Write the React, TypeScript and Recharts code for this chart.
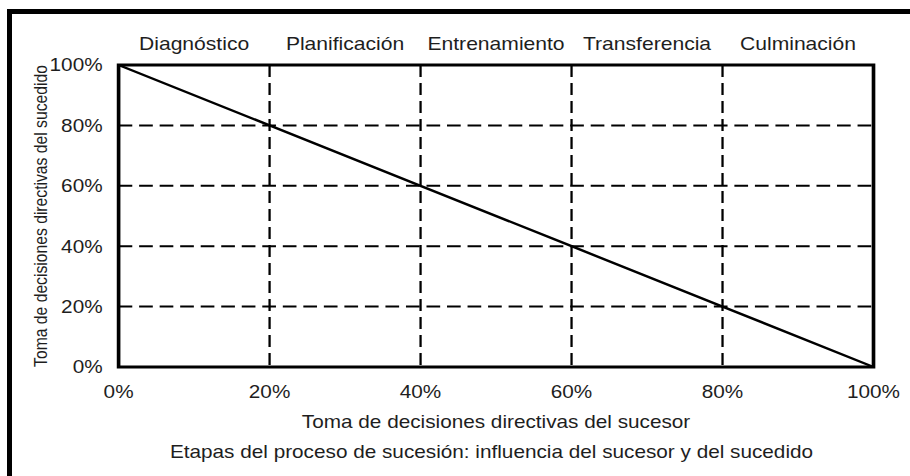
import React from "react";
import { LineChart, Line, XAxis, YAxis, CartesianGrid, ReferenceArea, Label } from "recharts";

// Data
const sucesorShare = [0, 20, 40, 60, 80, 100];
const sucedidoShare = [100, 80, 60, 40, 20, 0];
const percentTicks = [0, 20, 40, 60, 80, 100];
const stageNames = ["Diagnóstico", "Planificación", "Entrenamiento", "Transferencia", "Culminación"];
const stageCenters = [10, 30, 50, 70, 90];
const xTitle = "Toma de decisiones directivas del sucesor";
const xSubtitle = "Etapas del proceso de sucesión: influencia del sucesor y del sucedido";
const yTitle = "Toma de decisiones directivas del sucedido";

const data = sucesorShare.map((x, i) => ({ sucesor: x, sucedido: sucedidoShare[i] }));

const FONT = '"Liberation Sans", Arial, Helvetica, sans-serif';
const TEXT = "#1e1e1e";
const W = 798;
const H = 476;
const SX = 910 / W;

const pct = (v: number) => `${v}%`;
const stageLabel = (v: number) => {
  const i = stageCenters.indexOf(v);
  return i >= 0 ? stageNames[i] : "";
};

const XTitles = (props: any) => {
  const vb = props.viewBox || {};
  const cx = vb.x + vb.width / 2;
  return (
    <g>
      <text x={cx} y={vb.y + 61} textAnchor="middle" fontSize={18.2} fontFamily={FONT} fill={TEXT}>
        {xTitle}
      </text>
      <text x={cx - 4} y={vb.y + 91} textAnchor="middle" fontSize={18.2} fontFamily={FONT} fill={TEXT}>
        {xSubtitle}
      </text>
    </g>
  );
};

const YTitle = (props: any) => {
  const vb = props.viewBox || {};
  const x = vb.x - 3;
  const y = vb.y + vb.height / 2;
  return (
    <text
      x={x}
      y={y}
      transform={`rotate(-90, ${x}, ${y})`}
      textAnchor="middle"
      fontSize={15.7}
      fontFamily={FONT}
      fill={TEXT}
    >
      {yTitle}
    </text>
  );
};

export default function App() {
  return (
    <div style={{ position: "absolute", left: 0, top: 0, width: 910, height: 476, overflow: "hidden", background: "#fff" }}>
      <div
        style={{
          position: "absolute",
          left: 7,
          top: 9,
          width: 903,
          height: 467,
          boxSizing: "border-box",
          borderTop: "5px solid #000",
          borderLeft: "5px solid #000",
        }}
      />
      <div
        style={{
          position: "absolute",
          left: 0,
          top: 0,
          width: W,
          height: H,
          transform: `scaleX(${SX})`,
          transformOrigin: "0 0",
        }}
      >
        <LineChart width={W} height={H} data={data} margin={{ top: 35, right: 32, bottom: 79, left: 44 }}>
          <CartesianGrid stroke="#000" strokeWidth={2} strokeDasharray="12 6" />
          <XAxis
            dataKey="sucesor"
            type="number"
            domain={[0, 100]}
            ticks={percentTicks}
            tickFormatter={pct}
            tickSize={0}
            tickMargin={18}
            axisLine={false}
            height={30}
            tick={{ fontSize: 18.2, fontFamily: FONT, fill: TEXT }}
            interval={0}
          >
            <Label content={XTitles} />
          </XAxis>
          <XAxis
            xAxisId="top"
            orientation="top"
            dataKey="sucesor"
            type="number"
            domain={[0, 100]}
            allowDataOverflow
            ticks={stageCenters}
            tickFormatter={stageLabel}
            tickSize={0}
            tickMargin={15}
            axisLine={false}
            height={30}
            tick={{ fontSize: 18.5, fontFamily: FONT, fill: TEXT }}
            interval={0}
          />
          <YAxis
            type="number"
            domain={[0, 100]}
            ticks={percentTicks}
            tickFormatter={pct}
            tickSize={0}
            tickMargin={14}
            axisLine={false}
            width={60}
            tick={{ fontSize: 18.2, fontFamily: FONT, fill: TEXT }}
            interval={0}
          >
            <Label content={YTitle} />
          </YAxis>
          <ReferenceArea x1={0} x2={100} y1={0} y2={100} fill="none" fillOpacity={0} stroke="#000" strokeWidth={3.2} />
          <Line
            type="linear"
            dataKey="sucedido"
            stroke="#000"
            strokeWidth={2.4}
            dot={false}
            activeDot={false}
            isAnimationActive={false}
          />
        </LineChart>
      </div>
    </div>
  );
}
